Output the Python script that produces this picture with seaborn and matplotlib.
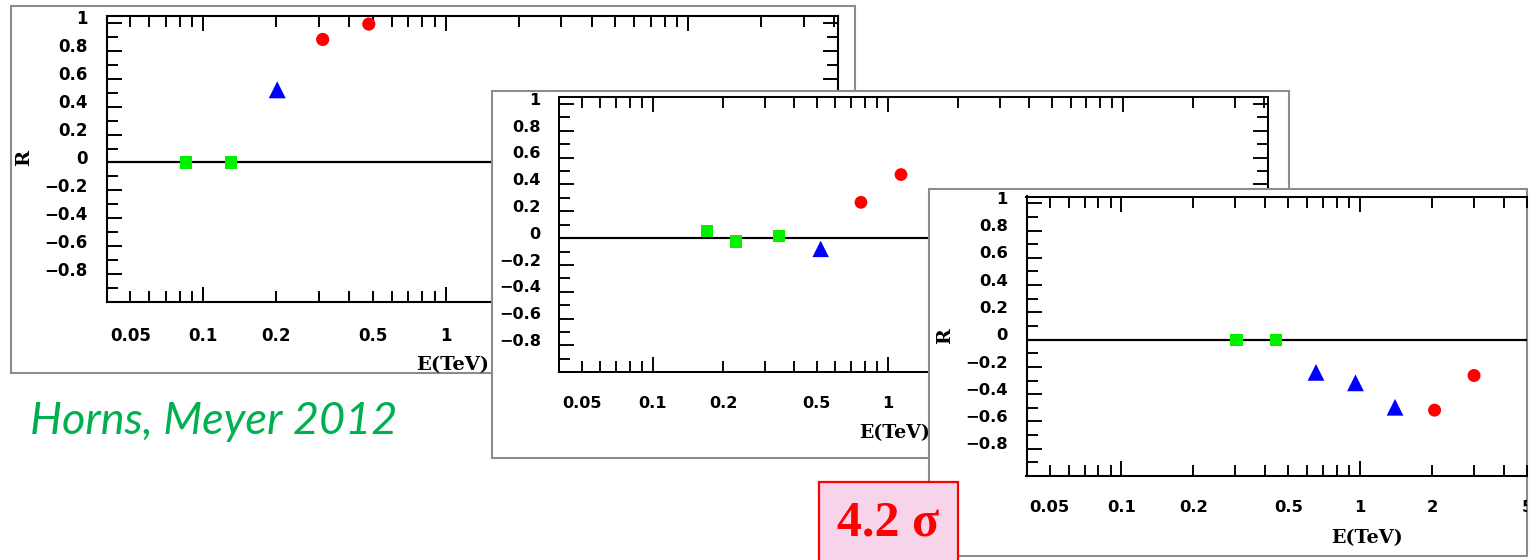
import numpy as np
import pandas as pd
import matplotlib
matplotlib.use('Agg')
import matplotlib.pyplot as plt
import seaborn as sns
from matplotlib.patches import Rectangle
from matplotlib import transforms as mtransforms
from matplotlib.ticker import FixedLocator, FixedFormatter, NullFormatter

# ---------------- data ----------------
# panel 1
p1_sq_E = [0.085, 0.130]
p1_sq_R = [0.0, 0.0]
p1_tri_E = [0.202]
p1_tri_R = [0.52]
p1_cir_E = [0.311, 0.482]
p1_cir_R = [0.88, 0.99]
# panel 2
p2_sq_E = [0.171, 0.226, 0.344]
p2_sq_R = [0.056, -0.025, 0.017]
p2_tri_E = [0.519]
p2_tri_R = [-0.08]
p2_cir_E = [0.77, 1.14]
p2_cir_R = [0.267, 0.474]
# panel 3
p3_sq_E = [0.303, 0.445]
p3_sq_R = [0.0, 0.0]
p3_tri_E = [0.653, 0.956, 1.40]
p3_tri_R = [-0.24, -0.317, -0.496]
p3_cir_E = [2.05, 3.0]
p3_cir_R = [-0.517, -0.263]

# ticks
x_major_ticks = [0.1, 1, 10]
x_major_labels = ['0.1', '1', '10']
x_minor_ticks = [0.05, 0.06, 0.07, 0.08, 0.09,
                 0.2, 0.3, 0.4, 0.5, 0.6, 0.7, 0.8, 0.9,
                 2, 3, 4, 5, 6, 7, 8, 9, 20, 30, 40]
x_minor_labels = ['0.05', '', '', '', '',
                  '0.2', '', '', '0.5', '', '', '', '',
                  '2', '', '', '5', '', '', '', '', '20', '', '']
y_major_ticks = [-0.8, -0.6, -0.4, -0.2, 0.0, 0.2, 0.4, 0.6, 0.8, 1.0]
y_major_labels = ['\u22120.8', '\u22120.6', '\u22120.4', '\u22120.2', '0',
                  '0.2', '0.4', '0.6', '0.8', '1']
y_minor_ticks = [-0.9, -0.7, -0.5, -0.3, -0.1, 0.1, 0.3, 0.5, 0.7, 0.9]

x_label = 'E(TeV)'
y_label = 'R'
ref_text = 'Horns, Meyer 2012'
sig_text = '4.2 \u03c3'

# ---------------- style ----------------
sns.set_style('white')
plt.rcParams['font.family'] = ['DejaVu Sans']
plt.rcParams['font.weight'] = 'bold'

W, H = 1539, 560
fig = plt.figure(figsize=(W / 100, H / 100), dpi=100)
fig.patch.set_facecolor('white')

FRAME_COLOR = '#8c8c8c'
KIND_COLORS = {'sq': '#00f000', 'tri': '#0000ff', 'cir': '#ff0000'}
KIND_MARKERS = {'sq': 's', 'tri': '^', 'cir': 'o'}
KIND_SIZES = {'sq': 80, 'tri': 150, 'cir': 90}


def fig_rect(l, t, r, b):
    return [l / W, 1 - b / H, (r - l) / W, (b - t) / H]


def add_frame(l, t, r, b, z, fc='white', ec=FRAME_COLOR, lw=1.5):
    x, y, w, h = fig_rect(l, t, r, b)
    rect = Rectangle((x, y), w, h, transform=fig.transFigure, facecolor=fc,
                     edgecolor=ec, linewidth=lw, zorder=z)
    fig.add_artist(rect)
    return rect


def draw_panel(bounds, xlim, sqE, sqR, triE, triR, cirE, cirR, z, s,
               show_R=True, right_axis=True, clip_frame=None, label_max=100):
    ax = fig.add_axes(fig_rect(*bounds))
    ax.set_zorder(z)
    ax.set_facecolor('none')
    ax.set_xscale('log')
    df = pd.DataFrame({
        'E': sqE + triE + cirE,
        'R': sqR + triR + cirR,
        'kind': ['sq'] * len(sqE) + ['tri'] * len(triE) + ['cir'] * len(cirE),
    })
    ax.axhline(0, color='black', lw=1.6 * s, zorder=2)
    sns.scatterplot(data=df, x='E', y='R', hue='kind', style='kind', size='kind',
                    palette=KIND_COLORS, markers=KIND_MARKERS,
                    sizes={k: v * s * s for k, v in KIND_SIZES.items()},
                    linewidth=0, legend=False, ax=ax, zorder=3, clip_on=False)
    ax.set_xlim(*xlim)
    ax.set_ylim(-1, 1.05)
    ax.set_xlabel('')
    ax.set_ylabel('')

    # labels of ticks hidden under the next panel are left blank
    maj_lab = [l if t <= label_max else '' for t, l in zip(x_major_ticks, x_major_labels)]
    min_lab = [l if t <= label_max else '' for t, l in zip(x_minor_ticks, x_minor_labels)]
    ax.xaxis.set_major_locator(FixedLocator(x_major_ticks))
    ax.xaxis.set_major_formatter(FixedFormatter(maj_lab))
    ax.xaxis.set_minor_locator(FixedLocator(x_minor_ticks))
    ax.xaxis.set_minor_formatter(FixedFormatter(min_lab))
    ax.yaxis.set_major_locator(FixedLocator(y_major_ticks))
    ax.yaxis.set_major_formatter(FixedFormatter(y_major_labels))
    ax.yaxis.set_minor_locator(FixedLocator(y_minor_ticks))
    ax.yaxis.set_minor_formatter(NullFormatter())

    for sp in ax.spines.values():
        sp.set_linewidth(1.5 * s)
        sp.set_color('black')
    if not right_axis:
        ax.spines['right'].set_visible(False)

    ax.tick_params(axis='both', which='both', direction='in', top=True,
                   right=right_axis, left=True, bottom=True,
                   width=1.4 * s, color='black', labelsize=12 * s,
                   labelcolor='black')
    ax.tick_params(axis='both', which='major', length=11 * s)
    ax.tick_params(axis='both', which='minor', length=8 * s)
    ax.tick_params(axis='x', which='both', pad=17.5 * s)
    ax.tick_params(axis='y', which='both', pad=13.5 * s)

    off = mtransforms.ScaledTranslation(0, 5.5 * s / 100, fig.dpi_scale_trans)
    for lbl in ax.yaxis.get_majorticklabels():
        lbl.set_transform(lbl.get_transform() + off)
        lbl.set_fontweight('bold')
    for lbl in ax.get_xticklabels(which='both'):
        lbl.set_fontweight('bold')
        if clip_frame is not None:
            lbl.set_clip_box(mtransforms.TransformedBbox(
                mtransforms.Bbox.from_bounds(*clip_frame.get_bbox().bounds),
                fig.transFigure))
            lbl.set_clip_on(True)

    tx = (mtransforms.blended_transform_factory(ax.transData, ax.transAxes)
          + mtransforms.ScaledTranslation(0, -63 * s / 100, fig.dpi_scale_trans))
    ax.text(1.07, 0, x_label, transform=tx, ha='center', va='center',
            fontfamily='DejaVu Serif', fontweight='bold', fontsize=14 * s,
            color='black')
    if show_R:
        ty = (mtransforms.blended_transform_factory(ax.transAxes, ax.transData)
              + mtransforms.ScaledTranslation(-83 * s / 100, 0, fig.dpi_scale_trans))
        ax.text(0, 0.03, y_label, transform=ty, rotation=90, ha='center',
                va='center', fontfamily='DejaVu Serif', fontweight='bold',
                fontsize=14 * s, color='black')
    return ax


# ---------------- panel 1 ----------------
add_frame(11, 6, 855, 373, z=1)
draw_panel((106.7, 15.7, 838, 302.3), (0.04, 41.5),
           p1_sq_E, p1_sq_R, p1_tri_E, p1_tri_R, p1_cir_E, p1_cir_R,
           z=2, s=1.0, show_R=True, right_axis=True, label_max=1.5)

# ---------------- panel 2 ----------------
add_frame(491.7, 91, 1289, 457.7, z=3)
draw_panel((559, 97.3, 1268, 372.3), (0.04, 41.5),
           p2_sq_E, p2_sq_R, p2_tri_E, p2_tri_R, p2_cir_E, p2_cir_R,
           z=4, s=0.97, show_R=False, right_axis=True, label_max=1.5)

# ---------------- panel 3 ----------------
f3 = add_frame(929, 189, 1527, 556, z=5)
draw_panel((1026.5, 196.5, 1527, 476), (0.04, 5.0),
           p3_sq_E, p3_sq_R, p3_tri_E, p3_tri_R, p3_cir_E, p3_cir_R,
           z=6, s=0.985, show_R=True, right_axis=False, clip_frame=f3)

# ---------------- annotations ----------------
add_frame(819.3, 481.7, 957.7, 565, z=10, fc='#f8d4ea', ec='#ff0000', lw=1.6)
fig.text(888 / W, 1 - 523 / H, sig_text, color='#ff0000',
         fontfamily='Liberation Serif', fontweight='bold', fontsize=36,
         ha='center', va='center', zorder=11)
fig.text(30 / W, 1 - 421 / H, ref_text, color='#00b050',
         fontfamily='Lato', style='italic', fontweight='normal', fontsize=32.5,
         ha='left', va='center', zorder=11)

fig.savefig('out.png', dpi=100, facecolor='white')
